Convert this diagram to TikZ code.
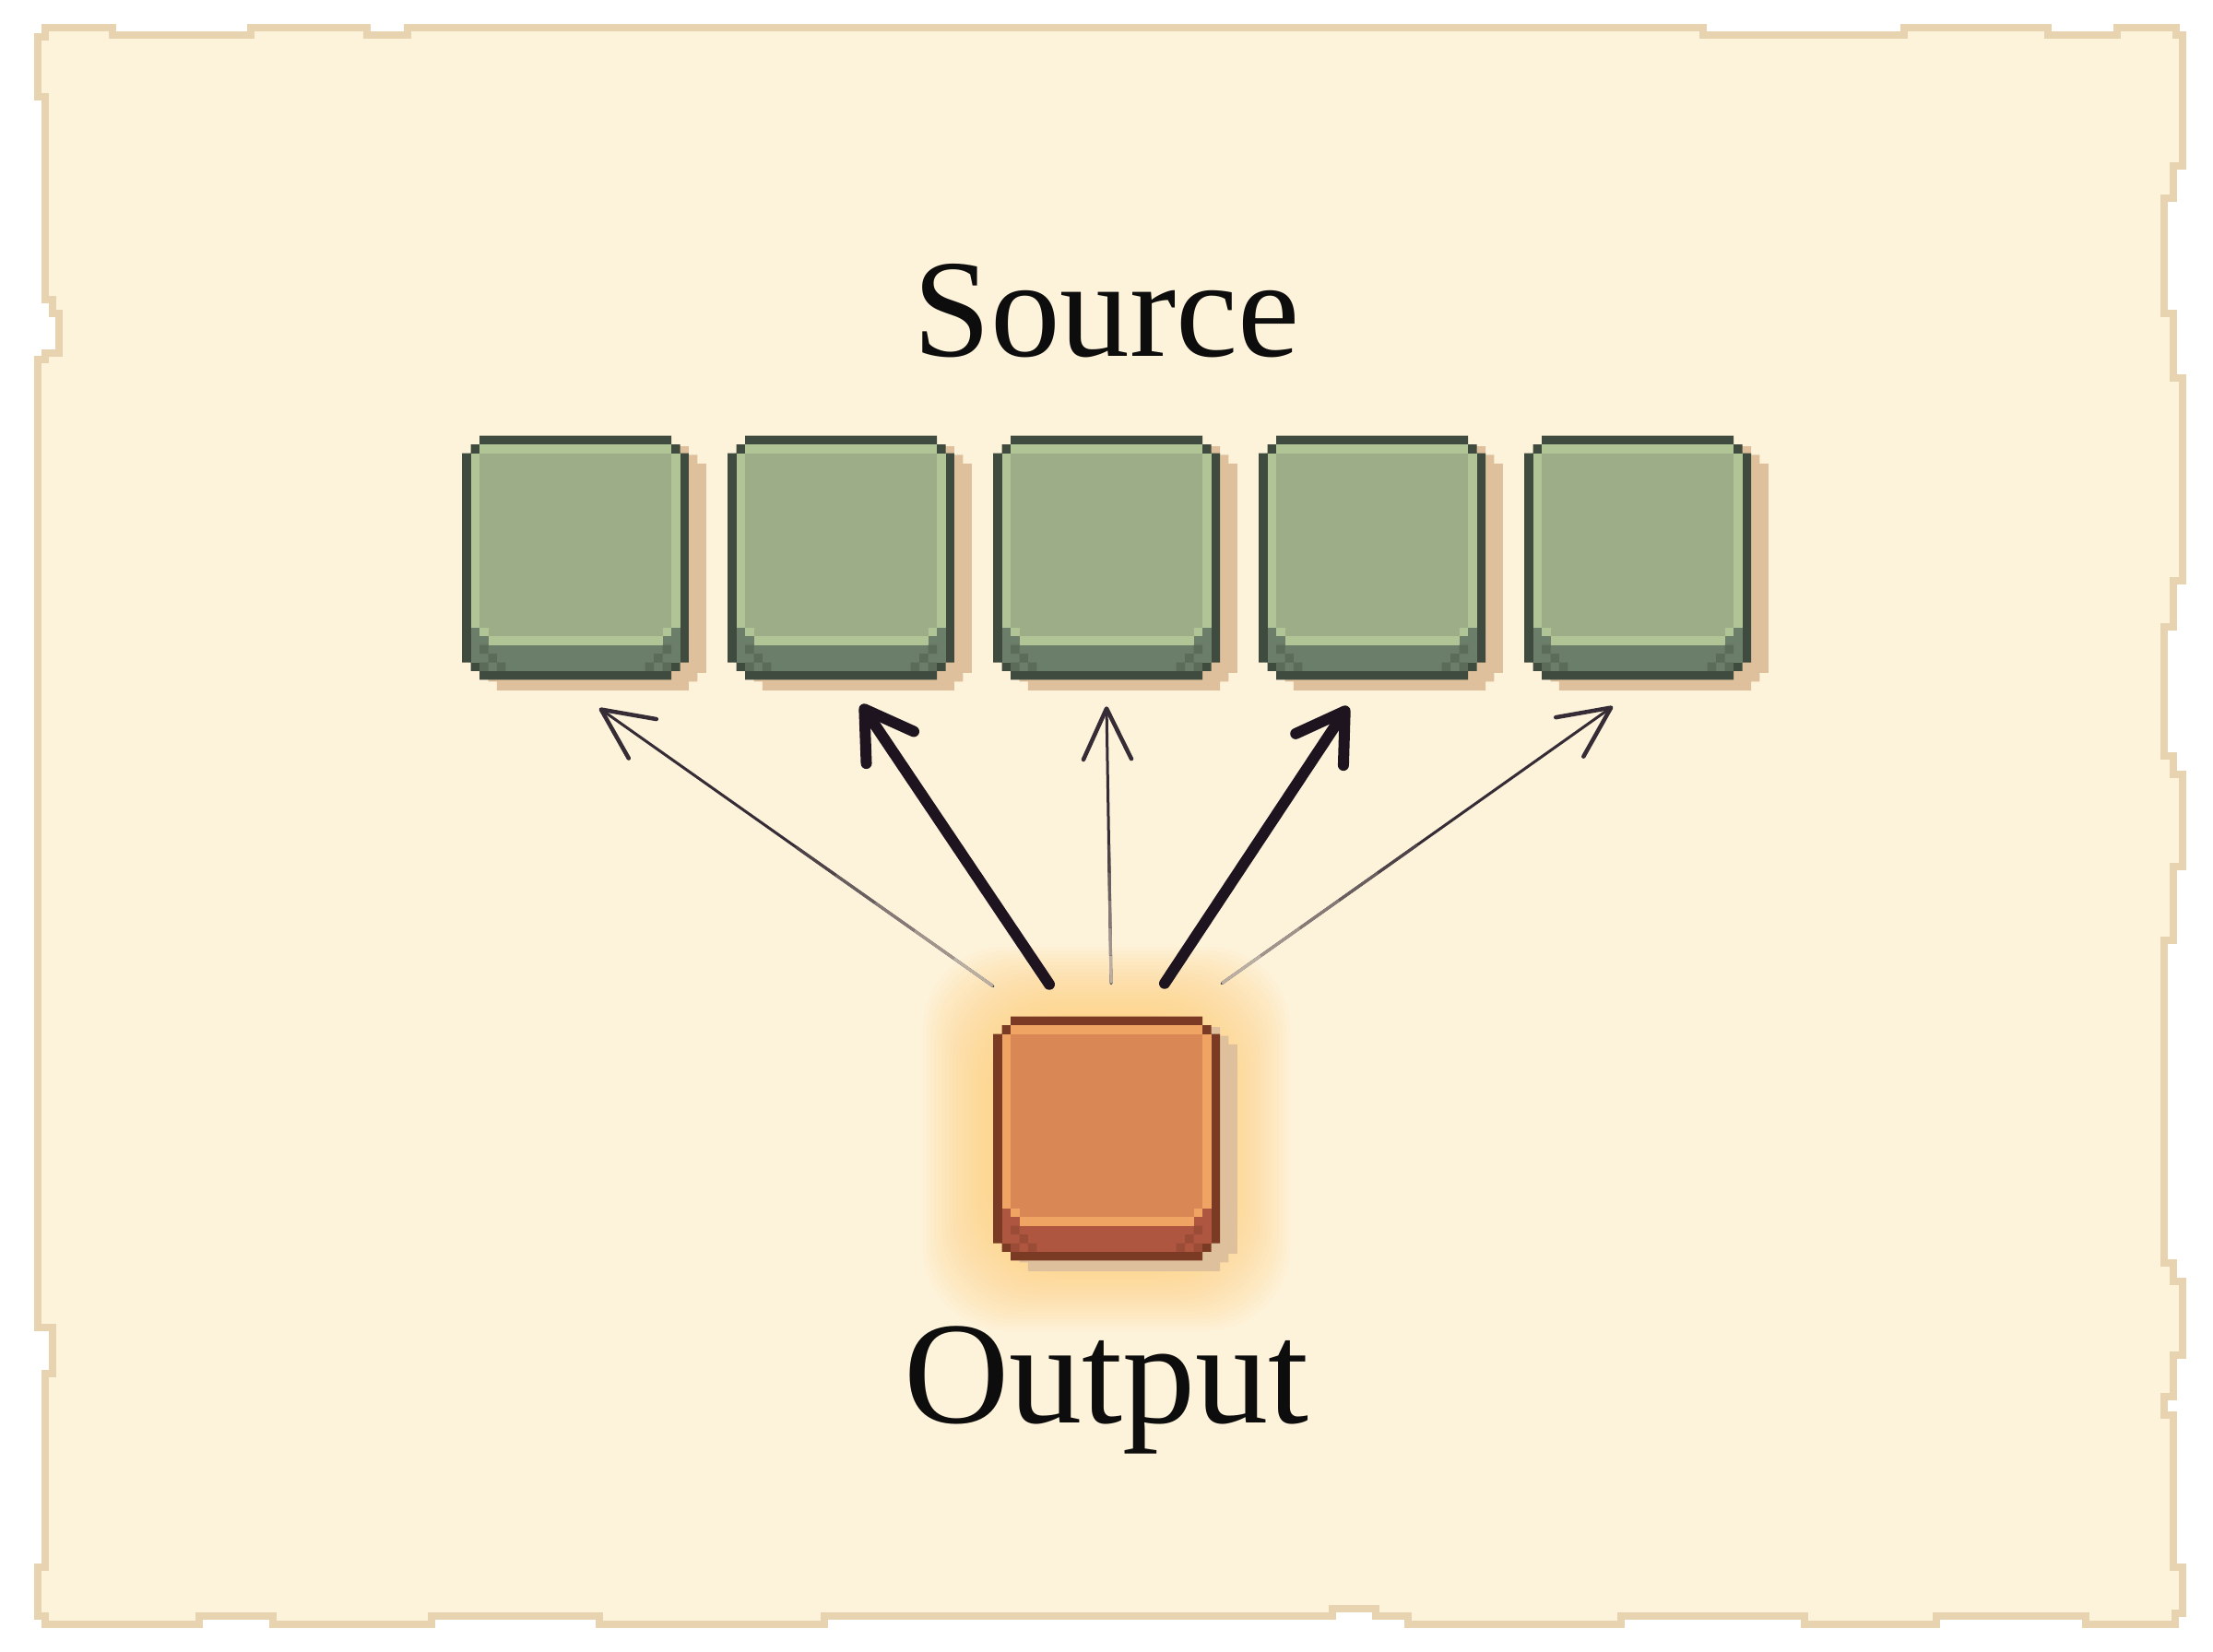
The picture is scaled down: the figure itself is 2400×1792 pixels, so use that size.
\documentclass[tikz,border=0pt]{standalone}
\usepackage{fontspec}
\newfontfamily\labelfont{Liberation Serif}
\usetikzlibrary{arrows.meta,calc}
\definecolor{paperc}{HTML}{FDF2DA}
\definecolor{edgec}{HTML}{E8D3B0}
\definecolor{shadowc}{HTML}{DEC19C}
\definecolor{gOut}{HTML}{3E4B3E}
\definecolor{gHi}{HTML}{B1C495}
\definecolor{gMain}{HTML}{9CAD87}
\definecolor{gBand}{HTML}{6B7E69}
\definecolor{oOut}{HTML}{7A3A24}
\definecolor{oHi}{HTML}{EFA464}
\definecolor{oMain}{HTML}{D98855}
\definecolor{oBand}{HTML}{AE5640}
\definecolor{glowc}{HTML}{FFCA66}
\definecolor{inkc}{HTML}{1E1420}

% #1 cx, #2 cy (pixels), #3 outline, #4 highlight, #5 main, #6 band
\newcommand\pixbox[6]{%
\begin{scope}[shift={(#1-122.85,#2-132.3)},x=0.0945cm,y=-0.0945cm]
  \fill[shadowc,shift={(2,1.2)}] (2,0) -- (24,0) -- (24,1) -- (25,1) -- (25,2) -- (26,2) -- (26,26) -- (25,26) -- (25,27) -- (24,27) -- (24,28) -- (2,28) -- (2,27) -- (1,27) -- (1,26) -- (0,26) -- (0,2) -- (1,2) -- (1,1) -- (2,1) -- cycle;
  \fill[#3] (2,0) -- (24,0) -- (24,1) -- (25,1) -- (25,2) -- (26,2) -- (26,26) -- (25,26) -- (25,27) -- (24,27) -- (24,28) -- (2,28) -- (2,27) -- (1,27) -- (1,26) -- (0,26) -- (0,2) -- (1,2) -- (1,1) -- (2,1) -- cycle;
  \fill[#5] (2,1) rectangle (24,27);
  \fill[#5] (1,2) rectangle (25,26);
  \fill[#4] (2,1) rectangle (24,2);
  \fill[#4] (1,2) rectangle (2,22);
  \fill[#4] (24,2) rectangle (25,22);
  \fill[#6] (1,22) rectangle (2,26);
  \fill[#6] (24,22) rectangle (25,26);
  \fill[#6] (1,24) rectangle (25,26);
  \fill[#6] (2,26) rectangle (24,27);
  \fill[#6] (1,23) rectangle (3,24);
  \fill[#6] (23,23) rectangle (25,24);
  \fill[#4] (3,23) rectangle (23,24);
  \fill[#4] (2,22) rectangle (3,23);
  \fill[#4] (23,22) rectangle (24,23);
  \fill[#3,opacity=0.35] (2,24) rectangle (3,25) (3,25) rectangle (4,26) (2,26) rectangle (3,27) (4,26) rectangle (5,27)
    (23,24) rectangle (24,25) (22,25) rectangle (23,26) (23,26) rectangle (24,27) (21,26) rectangle (22,27);
\end{scope}}

\tikzset{
  boxslot/.style={draw=none,inner sep=0pt,minimum width=2.46cm,minimum height=2.65cm},
  lbl/.style={font=\labelfont\fontsize{43}{50}\selectfont,text=black!95,inner sep=0pt},
  thickarr/.style={line width=0.12cm,draw=inkc,line cap=round,-{Straight Barb[length=0.5cm,width=0.62cm,round]}},
  thinarr/.style={line width=0.03cm,draw=inkc!90,line cap=round,-{Straight Barb[length=0.55cm,width=0.52cm,round,line width=0.045cm]}}
}

\begin{document}
\begin{tikzpicture}[x=0.01cm,y=-0.01cm]
\useasboundingbox (0,0) rectangle (2400,1792);
\fill[white] (0,0) rectangle (2400,1792);

% paper
\filldraw[fill=paperc,draw=edgec,line width=0.08cm,miter limit=2]
  (49,30) -- (122,30) -- (122,38) -- (272,38) -- (272,30) -- (398,30) -- (398,38) -- (442,38) -- (442,30)
  -- (1847,30) -- (1847,38) -- (2065,38) -- (2065,30) -- (2221,30) -- (2221,38) -- (2296,38) -- (2296,30)
  -- (2360,30) -- (2360,38) -- (2367,38)
  -- (2367,180) -- (2357,180) -- (2357,215) -- (2347,215) -- (2347,340) -- (2357,340) -- (2357,410) -- (2367,410)
  -- (2367,630) -- (2357,630) -- (2357,680) -- (2347,680) -- (2347,820) -- (2357,820) -- (2357,840) -- (2367,840)
  -- (2367,940) -- (2357,940) -- (2357,1020) -- (2347,1020) -- (2347,1370) -- (2357,1370) -- (2357,1390) -- (2367,1390)
  -- (2367,1470) -- (2357,1470) -- (2357,1515) -- (2347,1515) -- (2347,1535) -- (2357,1535) -- (2357,1700) -- (2367,1700)
  -- (2367,1750) -- (2359,1750) -- (2359,1762)
  -- (2262,1762) -- (2262,1753) -- (2100,1753) -- (2100,1762) -- (1957,1762) -- (1957,1753) -- (1758,1753) -- (1758,1762)
  -- (1527,1762) -- (1527,1753) -- (1492,1753) -- (1492,1745) -- (1445,1745) -- (1445,1753) -- (894,1753) -- (894,1762)
  -- (650,1762) -- (650,1753) -- (468,1753) -- (468,1762) -- (296,1762) -- (296,1753) -- (216,1753) -- (216,1762)
  -- (49,1762) -- (49,1753) -- (41,1753)
  -- (41,1700) -- (49,1700) -- (49,1490) -- (57,1490) -- (57,1440) -- (41,1440) -- (41,390) -- (49,390) -- (49,383)
  -- (64,383) -- (64,340) -- (57,340) -- (57,325) -- (49,325) -- (49,105) -- (41,105) -- (41,40) -- (49,40) -- cycle;

% soft glow behind output
\foreach \g in {76,72,...,4}
  \fill[glowc,opacity=0.045,rounded corners=0.9cm] (1077-\g,1103-\g) rectangle (1323+\g,1367+\g);

% boxes
\pixbox{624}{605}{gOut}{gHi}{gMain}{gBand}
\pixbox{912}{605}{gOut}{gHi}{gMain}{gBand}
\pixbox{1200}{605}{gOut}{gHi}{gMain}{gBand}
\pixbox{1488}{605}{gOut}{gHi}{gMain}{gBand}
\pixbox{1776}{605}{gOut}{gHi}{gMain}{gBand}
\pixbox{1200}{1235}{oOut}{oHi}{oMain}{oBand}

\node[boxslot] (s1) at (624,605) {};
\node[boxslot] (s2) at (912,605) {};
\node[boxslot] (s3) at (1200,605) {};
\node[boxslot] (s4) at (1488,605) {};
\node[boxslot] (s5) at (1776,605) {};
\node[boxslot] (out) at (1200,1235) {};

\node[lbl,anchor=base] (srclbl) at (1200,387) {Source};
\node[lbl,anchor=base,font=\labelfont\fontsize{45}{52}\selectfont] (outlbl) at (1200,1543) {Output};

% connector end points
\coordinate (a1) at ($(out.north)+(-123,-32)$);
\coordinate (a2) at ($(out.north)+(-62,-34)$);
\coordinate (a3) at ($(out.north)+(5,-35)$);
\coordinate (a4) at ($(out.north)+(63,-35)$);
\coordinate (a5) at ($(out.north)+(125,-35)$);
\coordinate (b1) at ($(s1.south)+(26,30)$);
\coordinate (b2) at ($(s2.south)+(22,26)$);
\coordinate (b3) at ($(s3.south)+(0,28)$);
\coordinate (b4) at ($(s4.south)+(-26,28)$);
\coordinate (b5) at ($(s5.south)+(-27,28)$);

\draw[thinarr] (a1) -- (b1);
\draw[thickarr] (a2) -- (b2);
\draw[thinarr] (a3) -- (b3);
\draw[thickarr] (a4) -- (b4);
\draw[thinarr] (a5) -- (b5);

% fading of thin lines toward the output
\foreach \a/\b in {a1/b1,a3/b3,a5/b5}
  \foreach \t/\u/\c in {0/0.1/30,0.1/0.2/42,0.2/0.3/54,0.3/0.4/66,0.4/0.5/78}
    \draw[line width=0.032cm,line cap=butt,draw=inkc!\c!paperc] ($(\a)!\t!(\b)$) -- ($(\a)!\u!(\b)$);
\end{tikzpicture}
\end{document}
